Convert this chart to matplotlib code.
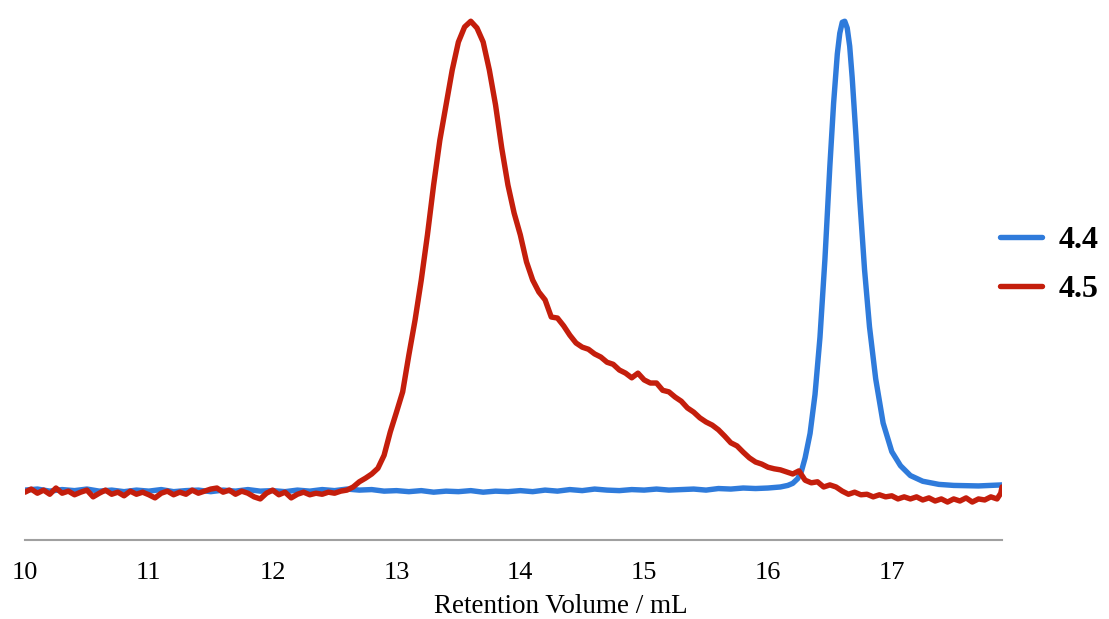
# Cromatogramas SEC: muestras 4.4 y 4.5
import matplotlib.pyplot as plt
import numpy as np

plt.rcParams['font.family'] = ['Liberation Serif', 'DejaVu Serif']

x_red = [10.00, 10.05, 10.10, 10.15, 10.20, 10.25, 10.30, 10.35, 10.40, 10.45,
         10.50, 10.55, 10.60, 10.65, 10.70, 10.75, 10.80, 10.85, 10.90, 10.95,
         11.00, 11.05, 11.10, 11.15, 11.20, 11.25, 11.30, 11.35, 11.40, 11.45,
         11.50, 11.55, 11.60, 11.65, 11.70, 11.75, 11.80, 11.85, 11.90, 11.95,
         12.00, 12.05, 12.10, 12.15, 12.20, 12.25, 12.30, 12.35, 12.40, 12.45,
         12.50, 12.55, 12.60, 12.65, 12.70, 12.75, 12.80, 12.85, 12.90, 12.95,
         13.00, 13.05, 13.10, 13.15, 13.20, 13.25, 13.30, 13.35, 13.40, 13.45,
         13.50, 13.55, 13.60, 13.65, 13.70, 13.75, 13.80, 13.85, 13.90, 13.95,
         14.00, 14.05, 14.10, 14.15, 14.20, 14.25, 14.30, 14.35, 14.40, 14.45,
         14.50, 14.55, 14.60, 14.65, 14.70, 14.75, 14.80, 14.85, 14.90, 14.95,
         15.00, 15.05, 15.10, 15.15, 15.20, 15.25, 15.30, 15.35, 15.40, 15.45,
         15.50, 15.55, 15.60, 15.65, 15.70, 15.75, 15.80, 15.85, 15.90, 15.95,
         16.00, 16.05, 16.10, 16.15, 16.20, 16.25, 16.30, 16.35, 16.40, 16.45,
         16.50, 16.55, 16.60, 16.65, 16.70, 16.75, 16.80, 16.85, 16.90, 16.95,
         17.00, 17.05, 17.10, 17.15, 17.20, 17.25, 17.30, 17.35, 17.40, 17.45,
         17.50, 17.55, 17.60, 17.65, 17.70, 17.75, 17.80, 17.85, 17.88, 17.89]
y_red = [9.2, 9.8, 9.0, 9.6, 8.8, 10.0, 9.0, 9.4, 8.7, 9.2,
         9.6, 8.3, 9.0, 9.6, 8.8, 9.2, 8.5, 9.4, 8.8, 9.2,
         8.7, 8.1, 9.0, 9.4, 8.7, 9.2, 8.8, 9.6, 9.0, 9.4,
         9.8, 10.0, 9.2, 9.6, 8.8, 9.4, 9.0, 8.3, 7.9, 9.0,
         9.6, 8.7, 9.2, 8.1, 8.8, 9.2, 8.7, 9.0, 8.8, 9.2,
         9.0, 9.4, 9.6, 10.2, 11.2, 11.9, 12.7, 13.8, 16.3, 20.8,
         24.6, 28.5, 35.6, 42.3, 50.0, 58.7, 68.3, 76.9, 83.7, 90.4,
         95.8, 98.7, 99.8, 98.5, 95.8, 90.4, 83.7, 75.4, 68.3, 62.9,
         58.7, 53.5, 50.0, 47.7, 46.2, 42.9, 42.7, 41.2, 39.4, 37.9,
         37.1, 36.7, 35.8, 35.2, 34.2, 33.8, 32.7, 32.1, 31.2, 32.1,
         30.8, 30.2, 30.2, 28.8, 28.5, 27.5, 26.7, 25.4, 24.6, 23.5,
         22.7, 22.1, 21.2, 20.0, 18.7, 18.1, 16.9, 15.8, 15.0, 14.6,
         14.0, 13.7, 13.5, 13.1, 12.7, 13.3, 11.5, 11.0, 11.2, 10.2,
         10.6, 10.2, 9.4, 8.8, 9.2, 8.7, 8.8, 8.3, 8.7, 8.3,
         8.5, 7.9, 8.3, 7.9, 8.3, 7.7, 8.1, 7.5, 7.9, 7.3,
         7.9, 7.5, 8.1, 7.3, 7.9, 7.7, 8.3, 7.9, 9.0, 10.2]

x_blue = [10.00, 10.10, 10.20, 10.30, 10.40, 10.50, 10.60, 10.70, 10.80, 10.90,
          11.00, 11.10, 11.20, 11.30, 11.40, 11.50, 11.60, 11.70, 11.80, 11.90,
          12.00, 12.10, 12.20, 12.30, 12.40, 12.50, 12.60, 12.70, 12.80, 12.90,
          13.00, 13.10, 13.20, 13.30, 13.40, 13.50, 13.60, 13.70, 13.80, 13.90,
          14.00, 14.10, 14.20, 14.30, 14.40, 14.50, 14.60, 14.70, 14.80, 14.90,
          15.00, 15.10, 15.20, 15.30, 15.40, 15.50, 15.60, 15.70, 15.80, 15.90,
          16.00, 16.10, 16.16, 16.20, 16.24, 16.27, 16.30, 16.34, 16.38, 16.42,
          16.46, 16.50, 16.53, 16.56, 16.58, 16.60, 16.62, 16.64, 16.66, 16.68,
          16.71, 16.74, 16.78, 16.82, 16.87, 16.93, 17.00, 17.07, 17.15, 17.25,
          17.38, 17.50, 17.70, 17.89]
y_blue = [9.6, 9.8, 9.4, 9.7, 9.5, 9.8, 9.4, 9.6, 9.3, 9.6,
          9.4, 9.7, 9.3, 9.5, 9.6, 9.3, 9.6, 9.4, 9.7, 9.4,
          9.5, 9.3, 9.6, 9.4, 9.7, 9.5, 9.8, 9.6, 9.7, 9.4,
          9.5, 9.3, 9.5, 9.2, 9.4, 9.3, 9.5, 9.2, 9.4, 9.3,
          9.5, 9.3, 9.6, 9.4, 9.7, 9.5, 9.8, 9.6, 9.5, 9.7,
          9.6, 9.8, 9.6, 9.7, 9.8, 9.6, 9.9, 9.8, 10.0, 9.9,
          10.0, 10.2, 10.5, 10.9, 11.8, 13.2, 15.8, 20.5, 28.0, 39.0,
          54.0, 72.0, 84.0, 93.5, 97.5, 99.6, 99.8, 98.5, 95.0, 89.0,
          78.0, 66.0, 52.0, 41.0, 31.0, 22.5, 17.0, 14.3, 12.4, 11.3,
          10.7, 10.5, 10.4, 10.6]

series = ["4.4", "4.5"]
ticks = [10, 11, 12, 13, 14, 15, 16, 17]

# --- figura ---
fig = plt.figure(figsize=(11.09, 6.19), dpi=100)
ax = fig.add_axes([25 / 1109, 79 / 619, 977 / 1109, 525 / 619])

ax.plot(x_blue, y_blue, color="#2F7BDB", lw=3.9, solid_capstyle="round",
        solid_joinstyle="round", label=series[0])
ax.plot(x_red, y_red, color="#C41E0C", lw=3.9, solid_capstyle="round",
        solid_joinstyle="round", label=series[1])

ax.set_xlim(10, 17.89)
ax.set_ylim(0, 101)
ax.set_xticks(ticks)
ax.set_xticklabels([str(t) for t in ticks], fontsize=19)
ax.tick_params(axis="x", length=0, pad=16)
ax.set_yticks([])
for s in ["top", "right", "left"]:
    ax.spines[s].set_visible(False)
ax.spines["bottom"].set_color("#A0A0A0")
ax.spines["bottom"].set_linewidth(1.5)
ax.set_xlabel("Retention Volume / mL", fontsize=19.5, va="top")
ax.xaxis.set_label_coords(0.548, -0.102)

fig.legend(loc="center left", bbox_to_anchor=(1000 / 1109, 1 - 265 / 619),
           frameon=False, prop={"weight": "bold", "size": 23},
           borderaxespad=0, borderpad=0,
           handlelength=1.3, handletextpad=0.55, labelspacing=0.6)

plt.savefig("out.png", dpi=100)
